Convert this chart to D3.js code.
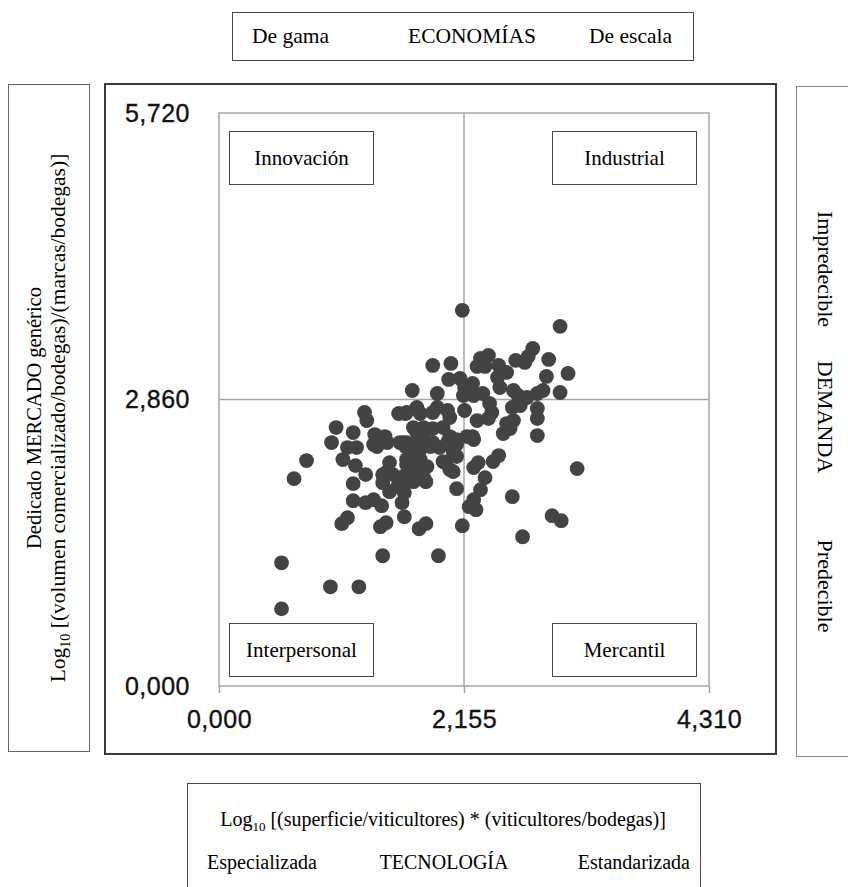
<!DOCTYPE html>
<html>
<head>
<meta charset="utf-8">
<script src="https://cdn.jsdelivr.net/npm/d3@7"></script>
<style>
    body { margin: 0; background: #fff; }
    .caja { fill: none; stroke: #4a4a4a; stroke-width: 1; }
    .etiqueta { font-family: "Liberation Serif", "Times New Roman", serif; font-size: 20px; fill: #000; }
    .cuadrante { font-family: "Liberation Serif", "Times New Roman", serif; font-size: 21px; fill: #000; }
    .eje text { font-family: "Liberation Sans", Arial, sans-serif; font-size: 25px; letter-spacing: 0.5px; fill: #111; stroke: #111; stroke-width: 0.35px; }
    .eje line { stroke: #a6a6a6; stroke-width: 1.5; }
    .rejilla { stroke: #a6a6a6; stroke-width: 1.5; fill: none; }
    .punto { fill: #434343; }
</style>
</head>
<body>
<div id="chart"></div>
<script>
const ctx = {
    W: 848,
    H: 887,
};

// ticks de los ejes
const xTicks = [0, 2.155, 4.31];
const yTicks = [0, 2.86, 5.72];

// Log10 [(superficie/viticultores) * (viticultores/bodegas)]
const logTecnologia = [
    0.55, 0.55, 0.98, 1.23, 1.44, 1.93, 0.66, 0.77, 1.08, 1.13,
    1.42, 1.47, 1.76, 1.82, 2.14, 1.63, 1.18, 1.29, 1.36, 1.43,
    1.18, 1.29, 1.09, 1.13, 1.21, 1.20, 0.99, 1.44, 1.50, 1.57,
    1.62, 1.61, 1.63, 1.71, 1.82, 1.65, 1.71, 1.50, 1.48, 2.09,
    1.99, 2.06, 2.09, 2.03, 2.24, 2.28, 2.34, 2.30, 2.24, 2.20,
    2.26, 2.41, 2.46, 2.58, 2.67, 2.93, 3.01, 3.15, 2.14, 3.00,
    2.76, 2.90, 3.07, 2.88, 3.00, 2.85, 2.80, 2.61, 2.69, 2.72,
    1.88, 2.04, 2.30, 2.37, 2.27, 2.34, 2.46, 2.53, 2.45, 2.02,
    2.12, 2.16, 2.23, 1.70, 1.92, 2.15, 2.32, 2.24, 2.47, 2.59,
    2.63, 2.71, 2.38, 2.40, 2.37, 2.58, 2.65, 2.80, 2.80, 2.59,
    2.53, 2.50, 2.56, 2.80, 2.27, 2.16, 2.18, 2.23, 1.74, 1.77,
    1.64, 1.88, 1.92, 2.01, 2.03, 1.71, 1.80, 1.88, 1.97, 2.03,
    2.09, 1.62, 1.71, 1.77, 1.86, 1.94, 2.03, 2.06, 1.65, 1.71,
    1.80, 1.97, 2.03, 1.68, 1.80, 1.28, 1.30, 1.58, 1.65, 1.80,
    1.74, 1.03, 1.18, 1.37, 1.46, 1.39, 1.48, 1.59, 1.64, 1.71,
    1.77, 1.83, 1.53, 1.44, 1.71, 1.62, 1.77, 1.36, 1.42, 1.65,
    1.74, 1.83, 1.88, 2.01, 2.09, 2.24
];

// Log10 [(volumen comercializado/bodegas)/(marcas/bodegas)]
const logMercado = [
    1.23, 0.77, 0.99, 0.99, 1.30, 1.30, 2.07, 2.25, 1.62, 1.68,
    1.59, 1.63, 1.57, 1.62, 1.60, 1.69, 1.85, 1.83, 1.86, 1.80,
    2.02, 2.11, 2.26, 2.38, 2.38, 2.20, 2.43, 2.03, 1.94, 1.99,
    2.04, 1.83, 1.93, 2.04, 2.04, 2.21, 2.26, 2.23, 2.14, 1.97,
    2.23, 2.14, 2.29, 2.41, 2.18, 2.23, 2.08, 1.96, 1.86, 1.79,
    1.76, 2.24, 2.30, 1.89, 1.49, 1.70, 1.65, 2.17, 3.75, 3.59,
    3.37, 3.26, 3.12, 3.09, 2.93, 2.95, 2.92, 3.25, 3.23, 3.29,
    3.20, 3.22, 3.27, 3.30, 3.19, 3.19, 3.20, 3.13, 3.08, 3.06,
    3.07, 2.98, 3.02, 2.95, 2.92, 2.90, 2.92, 2.90, 2.98, 2.95,
    2.90, 2.88, 2.82, 2.73, 2.67, 2.78, 2.80, 2.77, 2.67, 2.65,
    2.62, 2.52, 2.57, 2.50, 2.65, 2.75, 2.49, 2.49, 2.78, 2.72,
    2.72, 2.73, 2.78, 2.75, 2.68, 2.58, 2.53, 2.57, 2.58, 2.49,
    2.46, 2.43, 2.39, 2.36, 2.39, 2.38, 2.43, 2.33, 2.26, 2.29,
    2.19, 2.24, 2.16, 2.09, 2.08, 2.73, 2.65, 2.72, 2.73, 2.58,
    2.53, 2.58, 2.53, 2.51, 2.49, 2.39, 2.43, 2.43, 2.39, 2.33,
    2.26, 2.19, 2.11, 2.11, 2.16, 2.09, 2.09, 2.41, 2.43, 2.43,
    2.43, 2.41, 2.43, 2.43, 2.41, 2.46
];

// textos de las cajas
const cuadrantes = ["Innovación", "Industrial", "Interpersonal", "Mercantil"];
const economias = ["De gama", "ECONOMÍAS", "De escala"];
const tecnologia = ["Especializada", "TECNOLOGÍA", "Estandarizada"];
const demanda = ["Impredecible", "DEMANDA", "Predecible"];

function createViz() {
    console.log("Using D3 v" + d3.version);

    const svg = d3.select("#chart").append("svg")
                  .attr("width", ctx.W)
                  .attr("height", ctx.H);

    const x = d3.scaleLinear().domain([xTicks[0], xTicks[2]]).range([219, 709]);
    const y = d3.scaleLinear().domain([yTicks[0], yTicks[2]]).range([686, 113]);

    const coma = d3.formatLocale({decimal: ",", thousands: ".", grouping: [3], currency: ["", "€"]});
    const fmt = coma.format(".3f");

    // caja superior (economias)
    svg.append("rect").attr("class", "caja")
       .attr("x", 232.5).attr("y", 12.5).attr("width", 461).attr("height", 48);
    svg.selectAll(".economia")
       .data(economias)
       .enter()
       .append("text")
       .attr("class", "etiqueta economia")
       .style("font-size", "21.5px")
       .attr("x", (d, i) => [252, 472, 672][i])
       .attr("y", 43)
       .attr("text-anchor", (d, i) => ["start", "middle", "end"][i])
       .text(d => d);

    // marco principal
    svg.append("rect").attr("class", "caja")
       .attr("x", 105).attr("y", 84).attr("width", 671).attr("height", 670)
       .style("stroke", "#3a3a3a").style("stroke-width", 2);

    // caja izquierda (mercado)
    svg.append("rect").attr("class", "caja")
       .attr("x", 8.5).attr("y", 84.5).attr("width", 81).attr("height", 667)
       .style("stroke", "#666");
    const izq = svg.append("g").attr("class", "etiqueta");
    izq.append("text")
       .attr("transform", "translate(41,418) rotate(-90)")
       .attr("text-anchor", "middle")
       .style("font-size", "20.5px")
       .text("Dedicado MERCADO genérico");
    const logY = izq.append("text")
       .attr("transform", "translate(65,418) rotate(-90)")
       .attr("text-anchor", "middle")
       .style("font-size", "21.5px");
    logY.append("tspan").text("Log");
    logY.append("tspan").attr("dy", 5).style("font-size", "14px").text("10");
    logY.append("tspan").attr("dy", -5).text(" [(volumen comercializado/bodegas)/(marcas/bodegas)]");

    // caja derecha (demanda)
    svg.append("rect").attr("class", "caja")
       .attr("x", 796.5).attr("y", 86.5).attr("width", 60).attr("height", 670)
       .style("stroke", "#888");
    svg.selectAll(".demanda")
       .data(demanda)
       .enter()
       .append("text")
       .attr("class", "etiqueta demanda")
       .style("font-size", "22px")
       .attr("text-anchor", "middle")
       .attr("transform", (d, i) => `translate(818,${[269, 417, 586][i]}) rotate(90)`)
       .text(d => d);

    // caja inferior (tecnologia)
    svg.append("rect").attr("class", "caja")
       .attr("x", 187.5).attr("y", 783.5).attr("width", 513).attr("height", 120);
    const logX = svg.append("text")
       .attr("class", "etiqueta")
       .attr("x", 443).attr("y", 826)
       .attr("text-anchor", "middle");
    logX.append("tspan").text("Log");
    logX.append("tspan").attr("dy", 5).style("font-size", "13px").text("10");
    logX.append("tspan").attr("dy", -5).text(" [(superficie/viticultores) * (viticultores/bodegas)]");
    svg.selectAll(".tecnologia")
       .data(tecnologia)
       .enter()
       .append("text")
       .attr("class", "etiqueta tecnologia")
       .attr("x", (d, i) => [207, 444, 690][i])
       .attr("y", 869)
       .attr("text-anchor", (d, i) => ["start", "middle", "end"][i])
       .text(d => d);

    // area de trazado y rejilla
    svg.append("rect").attr("class", "rejilla")
       .attr("x", x(xTicks[0])).attr("y", y(yTicks[2]))
       .attr("width", x(xTicks[2]) - x(xTicks[0]))
       .attr("height", y(yTicks[0]) - y(yTicks[2]));
    svg.append("line").attr("class", "rejilla")
       .attr("x1", x(xTicks[1])).attr("x2", x(xTicks[1]))
       .attr("y1", y(yTicks[0])).attr("y2", y(yTicks[2]));
    svg.append("line").attr("class", "rejilla")
       .attr("x1", x(xTicks[0])).attr("x2", x(xTicks[2]))
       .attr("y1", y(yTicks[1])).attr("y2", y(yTicks[1]));

    svg.append("g")
       .attr("class", "eje")
       .attr("transform", `translate(0,${y(0)})`)
       .call(d3.axisBottom(x).tickValues(xTicks).tickFormat(fmt).tickSize(7).tickPadding(17))
       .call(g => g.select(".domain").remove());

    svg.append("g")
       .attr("class", "eje")
       .attr("transform", `translate(${x(0)},0)`)
       .call(d3.axisLeft(y).tickValues(yTicks).tickFormat(fmt).tickSize(0).tickPadding(29))
       .call(g => g.select(".domain").remove());

    // puntos
    svg.append("g")
       .selectAll("circle")
       .data(d3.zip(logTecnologia, logMercado))
       .enter()
       .append("circle")
       .attr("class", "punto")
       .attr("cx", d => x(d[0]))
       .attr("cy", d => y(d[1]))
       .attr("r", 7.4);

    // cajas de los cuadrantes
    const pos = [[229, 131], [552, 131], [229, 623], [552, 623]];
    const quad = svg.append("g")
       .selectAll("g")
       .data(cuadrantes)
       .enter()
       .append("g")
       .attr("transform", (d, i) => `translate(${pos[i][0]},${pos[i][1]})`);
    quad.append("rect")
       .attr("class", "caja")
       .attr("x", 0.5).attr("y", 0.5)
       .attr("width", 144).attr("height", 53)
       .style("fill", "#fff");
    quad.append("text")
       .attr("class", "cuadrante")
       .attr("x", 72.5).attr("y", 34)
       .attr("text-anchor", "middle")
       .text(d => d);

    console.log("Chart drawn");
}

createViz();
</script>
</body>
</html>
